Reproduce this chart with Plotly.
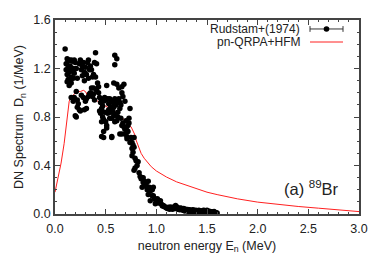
import plotly.graph_objects as go

exp_x = [0.10,0.11,0.12,0.13,0.14,0.15,0.16,0.17,0.18,0.19,0.20,
         0.11,0.12,0.13,0.14,0.15,0.16,0.17,0.18,0.12,0.14,0.13,0.15,0.19,0.21,0.22,0.16,
         0.16,0.18,0.19,0.20,0.21,0.21,0.22,0.23,0.24,0.25,0.22,0.26,
         0.24,0.25,0.26,0.27,0.28,0.29,0.30,0.31,0.32,0.33,0.34,0.35,0.36,0.37,0.38,0.39,0.40,0.41,0.40,0.42,0.43,0.41,0.38,0.36,0.27,0.29,0.33,
         0.28,0.30,0.31,0.33,0.35,0.31,0.29,0.34,0.37,0.39,0.38,
         0.43,0.44,0.45,0.46,0.47,0.48,0.49,0.50,0.51,0.52,0.53,0.54,0.55,0.56,0.57,0.58,0.59,0.60,0.61,0.62,0.63,0.64,0.65,0.66,0.67,0.68,0.69,
         0.44,0.45,0.46,0.47,0.48,0.49,0.50,0.51,0.52,0.53,0.54,0.55,0.56,0.57,0.58,0.59,0.60,0.61,0.62,0.46,0.46,0.48,0.48,0.51,0.56,0.56,
         0.59,0.61,0.59,0.61,0.58,0.63,0.66,
         0.64,0.65,0.66,0.67,0.68,0.69,0.70,0.71,0.72,0.73,0.73,0.74,0.64,0.66,0.69,0.71,0.71,0.72,0.74,0.75,0.76,0.76,0.77,0.78,0.78,0.76,0.77,0.79,0.80,0.82,0.81,0.78,0.79,
         0.84,0.83,0.85,0.86,0.87,0.87,0.88,0.89,0.86,0.90,0.91,0.92,0.92,0.93,0.94,0.95,0.96,0.96,0.97,0.97,0.98,0.94,0.99,0.99,1.00,1.01,1.02,1.03,1.04,1.05,1.06,1.07,1.08,1.09,1.10,1.11,1.12,1.13,1.14,
         1.15,1.16,1.17,1.18,1.19,1.20,1.21,1.22,1.23,1.24,1.25,1.26,1.27,1.28,1.29,1.30,1.31,1.32,1.33,1.34,1.35,1.36,1.37,1.38,1.39,1.40,
         1.41,1.42,1.43,1.44,1.45,1.46,1.47,1.48,1.49,1.50,1.51,1.52,1.53,1.54,1.55,1.56,1.57,1.58,1.59,1.60]
exp_y = [1.36,1.24,1.28,1.26,1.27,1.22,1.27,1.26,1.20,1.27,1.25,
         1.19,1.15,1.11,1.17,1.10,1.13,1.18,1.12,1.09,1.06,1.21,1.19,1.16,1.20,1.12,1.08,
         0.96,0.93,0.96,0.81,0.80,1.01,0.88,0.91,0.86,0.85,0.94,0.98,
         1.24,1.27,1.19,1.22,1.25,1.17,1.21,1.15,1.25,1.27,1.19,1.22,1.19,1.13,1.15,1.25,1.33,1.24,1.13,1.08,1.05,1.02,1.04,1.04,1.14,1.10,1.12,
         0.96,0.93,0.95,0.97,1.00,0.87,0.86,0.99,0.97,0.94,0.99,
         1.00,0.96,0.92,0.94,0.89,0.93,0.96,0.94,1.06,0.95,0.91,0.95,0.88,0.93,0.92,0.88,0.95,0.90,0.92,0.84,0.95,0.92,0.90,1.00,0.97,1.07,0.93,
         0.85,0.83,0.87,0.80,0.78,0.84,0.76,0.73,0.83,0.86,0.79,0.84,0.79,0.85,0.81,0.76,0.82,0.77,0.80,0.76,0.64,0.68,0.63,0.71,0.64,0.63,
         1.31,1.28,1.23,1.07,1.08,1.04,1.05,
         0.87,0.79,0.73,0.75,0.72,0.70,0.77,0.69,0.73,0.79,0.75,0.87,0.66,0.66,0.66,0.64,0.62,0.68,0.59,0.63,0.59,0.54,0.57,0.55,0.63,0.48,0.51,0.46,0.44,0.43,0.40,0.36,0.38,
         0.31,0.34,0.29,0.30,0.26,0.30,0.27,0.23,0.22,0.25,0.20,0.27,0.16,0.22,0.19,0.21,0.20,0.15,0.15,0.22,0.13,0.11,0.085,0.12,0.11,0.125,0.09,0.10,0.11,0.08,0.065,0.07,0.06,0.058,0.05,0.045,0.055,0.04,0.058,
         0.045,0.04,0.058,0.045,0.07,0.06,0.04,0.05,0.035,0.05,0.045,0.03,0.045,0.025,0.04,0.03,0.038,0.02,0.035,0.028,0.02,0.035,0.03,0.018,0.03,0.022,
         0.015,0.03,0.02,0.025,0.012,0.028,0.03,0.018,0.025,0.03,0.015,0.022,0.02,0.01,0.018,0.015,0.02,0.012,0.01,0.008]

# Theory curve (pn-QRPA+HFM)
th_x = [0.0,0.03,0.06,0.09,0.12,0.14,0.16,0.18,0.20,0.22,0.25,0.28,0.30,0.32,0.35,0.38,0.40,0.43,0.45,0.48,
        0.50,0.53,0.55,0.58,0.60,0.63,0.65,0.68,0.70,0.72,0.75,0.77,0.79,0.80,0.82,0.85,0.88,0.90,0.95,1.0,
        1.1,1.2,1.3,1.4,1.5,1.6,1.8,2.0,2.2,2.4,2.6,2.8,3.0]
th_y = [0.18,0.30,0.42,0.58,0.80,0.93,0.97,0.98,1.00,1.01,1.01,1.02,1.01,0.98,0.98,0.96,0.94,0.92,0.91,0.90,
        0.89,0.87,0.86,0.85,0.84,0.81,0.80,0.78,0.76,0.74,0.72,0.69,0.65,0.61,0.56,0.50,0.46,0.44,0.39,0.355,
        0.305,0.265,0.235,0.205,0.18,0.16,0.125,0.098,0.078,0.062,0.048,0.033,0.02]

legend_labels = ["Rudstam+(1974)", "pn-QRPA+HFM"]

FONT = "Liberation Sans, Arial, Helvetica, sans-serif"
TXT = "#222222"

# page body has an 8px margin -> figure is 8px smaller, margins shifted by 8px
W, H = 374, 260
L, R, T, B = 47, 23, 5, 54
PW, PH = W - L - R, H - T - B

fig = go.Figure()
fig.add_trace(go.Scatter(x=th_x, y=th_y, mode="lines",
                         line=dict(color="#ff2020", width=1), name=legend_labels[1],
                         showlegend=False))
fig.add_trace(go.Scatter(x=exp_x, y=exp_y, mode="markers",
                         marker=dict(color="black", size=5.5), name=legend_labels[0],
                         showlegend=False))

axis_common = dict(showline=True, linecolor="#444444", linewidth=1.5, mirror="ticks",
                   ticks="inside", ticklen=5, tickcolor="#444444", tickwidth=1,
                   showgrid=False, zeroline=False,
                   tickfont=dict(family=FONT, size=12.5, color=TXT))

fig.update_xaxes(range=[0, 3.0], dtick=0.5, tickformat=".1f", ticklabelstandoff=2,
                 minor=dict(ticks="inside", dtick=0.1, ticklen=2.5, tickcolor="#444444"),
                 title=dict(text="neutron energy E<sub>n</sub> (MeV)",
                            font=dict(family=FONT, size=12.5, color=TXT), standoff=6),
                 **axis_common)
fig.update_yaxes(range=[0, 1.6], dtick=0.4, tickformat=".1f",
                 minor=dict(ticks="inside", dtick=0.1, ticklen=2.5, tickcolor="#444444"),
                 title=dict(text="DN Spectrum  D<sub>n</sub> (1/MeV)",
                            font=dict(family=FONT, size=12.5, color=TXT), standoff=7),
                 **axis_common)

# Legend drawn manually (paper coordinates); inputs are reference-page pixels
def px2paper(xp, yp):
    xl, yl = xp - 8, yp - 8
    return (xl - L) / PW, 1 - (yl - T) / PH

annotations = []
shapes = []
rows = [22.3, 35.8]
for i, lab in enumerate(legend_labels):
    xa, ya = px2paper(301, rows[i])
    annotations.append(dict(x=xa, y=ya, xref="paper", yref="paper", text=lab,
                            showarrow=False, xanchor="right", yanchor="middle",
                            borderpad=0,
                            font=dict(family=FONT, size=12, color=TXT)))
x0, y0 = px2paper(310, rows[0])
x1, _ = px2paper(343, rows[0])
shapes.append(dict(type="line", xref="paper", yref="paper", x0=x0, x1=x1, y0=y0, y1=y0,
                   line=dict(color="#333333", width=1)))
cap = 3 / PH
for xc in (x0, x1):
    shapes.append(dict(type="line", xref="paper", yref="paper", x0=xc, x1=xc,
                       y0=y0 - cap, y1=y0 + cap, line=dict(color="#333333", width=1)))
xm, _ = px2paper(326.5, rows[0])
dr = 2.8
shapes.append(dict(type="circle", xref="paper", yref="paper",
                   x0=xm - dr / PW, x1=xm + dr / PW, y0=y0 - dr / PH, y1=y0 + dr / PH,
                   fillcolor="black", line=dict(color="black", width=0)))
x0r, y0r = px2paper(310, rows[1])
x1r, _ = px2paper(343, rows[1])
shapes.append(dict(type="line", xref="paper", yref="paper", x0=x0r, x1=x1r, y0=y0r, y1=y0r,
                   line=dict(color="#ff2020", width=1)))

xa, ya = px2paper(341, 187)
annotations.append(dict(x=xa, y=ya, xref="paper", yref="paper",
                        text="(a) <sup>89</sup>Br", showarrow=False,
                        xanchor="right", yanchor="middle",
                        font=dict(family=FONT, size=16.5, color=TXT)))

fig.update_layout(width=W, height=H, margin=dict(l=L, r=R, t=T, b=B),
                  paper_bgcolor="white", plot_bgcolor="white",
                  annotations=annotations, shapes=shapes, showlegend=False)

fig.write_html("out.html")
